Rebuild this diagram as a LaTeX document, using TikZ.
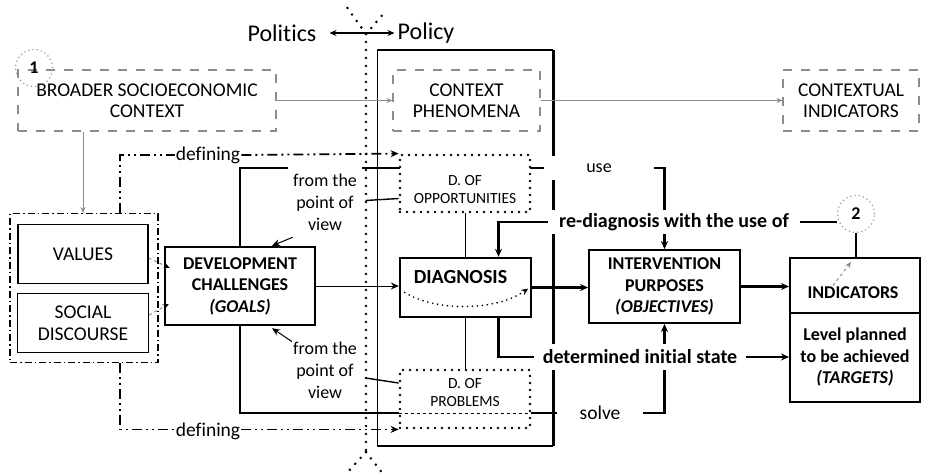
\documentclass[tikz,border=0pt]{standalone}
\usepackage{fontspec}
\setmainfont{Carlito}[Ligatures=NoCommon]
\usetikzlibrary{arrows.meta,calc,backgrounds}

\begin{document}
\begin{tikzpicture}[x=1pt,y=-1pt,
  base/.style={font=\fontsize{19.5}{21.5}\selectfont, align=center, inner sep=1pt},
  viewtxt/.style={font=\fontsize{18}{22}\selectfont, align=center, inner sep=1pt, fill=white},
  boldtxt/.style={font=\bfseries\fontsize{20}{21.5}\selectfont, align=center, inner sep=1pt},
  boxbold/.style={font=\bfseries\fontsize{18}{21.5}\selectfont, align=center},
  headtxt/.style={font=\fontsize{24}{24}\selectfont, inner sep=1pt},
  smalltxt/.style={font=\fontsize{15.5}{18}\selectfont, align=center, inner sep=0pt},
  lbl/.style={base, fill=white},
  boldlbl/.style={boldtxt, fill=white},
  ctxbox/.style={base, draw=black!45, line width=1.1pt, dash pattern=on 9pt off 9pt,
                 minimum height=61pt, inner sep=0pt},
  numc/.style={circle, draw=black!40, line width=1.2pt, dash pattern=on 1.2pt off 3pt,
               minimum size=37pt, inner sep=0pt, font=\bfseries\fontsize{18}{18}\selectfont},
  outbox/.style={base, draw, line width=1.4pt, inner sep=0pt},
  heavybox/.style={boxbold, draw, line width=2.4pt, inner sep=0pt},
  dbox/.style={draw, line width=2.8pt, dash pattern=on 0pt off 7pt, line cap=round,
               inner sep=0pt, minimum width=130pt},
  grpbox/.style={draw, line width=1.1pt, dash pattern=on 7pt off 3pt on 1.5pt off 3pt},
  thk/.style={line width=2.4pt},
  hair/.style={line width=1pt},
  arr/.style={-{Stealth[length=8pt,width=7pt]}},
  defl/.style={line width=1.8pt, dash pattern=on 10pt off 4pt on 2pt off 4pt on 2pt off 4pt},
  divider/.style={line width=2.8pt, dash pattern=on 0pt off 8pt, line cap=round},
  garrow/.style={draw=black!45, line width=1pt, -{Stealth[length=6pt,width=5pt]}}
]
\useasboundingbox (0,0) rectangle (927,475);

% ---- headings
\node[headtxt] (politics) at (282,33) {Politics};
\node[headtxt] (policy) at (426,33) {Policy};

% ---- context row
\node[ctxbox, minimum width=258pt] (broad) at (147,100.5) {BROADER SOCIOECONOMIC\\CONTEXT};
\node[ctxbox, minimum width=147pt] (phen) at (466.5,100.5) {CONTEXT\\PHENOMENA};
\node[ctxbox, minimum width=136pt] (ctxind) at (851,100.5) {CONTEXTUAL\\INDICATORS};
\node[numc] (c1) at (34,68) {1};

% ---- values and discourse
\node[grpbox, minimum width=148pt, minimum height=149pt] (grp) at (84,288) {};
\node[outbox, minimum width=130pt, minimum height=59pt] (values) at (83,254) {VALUES};
\node[outbox, minimum width=131pt, minimum height=59pt] (social) at (83,323) {SOCIAL\\DISCOURSE};

% ---- goals
\node[heavybox, minimum width=150pt, minimum height=78pt] (dev) at (240,286)
  {DEVELOPMENT\\CHALLENGES\\\textit{(GOALS)}};

% ---- diagnosis block
\node[dbox, minimum height=57pt, fill=white] (opp) at (465,183.5) {};
\node[smalltxt] (opptxt) at ($(opp.center)+(0,6.5)$) {D. OF\\OPPORTUNITIES};
\node[dbox, minimum height=58pt] (prob) at (465,399) {};
\node[smalltxt] (probtxt) at ($(prob.center)+(0,-6.5)$) {D. OF\\PROBLEMS};
\node[heavybox, minimum width=131pt, minimum height=59pt] (diag) at (465.5,287.5) {};
\node[boldtxt] (diagtxt) at ($(diag.center)+(-5,-10)$) {DIAGNOSIS};

% ---- objectives and indicators
\node[heavybox, line width=1.8pt, minimum width=151pt, minimum height=73pt] (interv) at (664.5,286.5)
  {INTERVENTION\\PURPOSES\\\textit{(OBJECTIVES)}};
\node[heavybox, line width=2pt, minimum width=130pt, minimum height=55pt] (indtop) at (855,285.5) {};
\node[boxbold] (indtxt) at ($(indtop.center)+(-2,7.5)$) {INDICATORS};
\node[heavybox, line width=2pt, minimum width=130pt, minimum height=89pt] (indbot) at (855,357.5)
  {Level planned\\to be achieved\\\textit{(TARGETS)}};
\node[numc] (c2) at (856,214) {2};

% ---- labels on connectors
\node[viewtxt, minimum width=74pt, minimum height=70pt] (fromT) at (325,202) {from the\\point of\\view};
\node[viewtxt] (fromB) at (325,370) {from the\\point of\\view};
\node[lbl] (defT) at (208,155) {defining};
\node[lbl] (defB) at (208,431) {defining};
\node[viewtxt, minimum width=110pt, minimum height=24pt] (useL) at (599,168) {use};
\node[lbl, minimum width=86pt, minimum height=24pt] (solveL) at (600,413) {solve};
\node[boldlbl, minimum width=252pt, minimum height=24pt] (rediag) at (674,222) {re-diagnosis with the use of};
\node[boldlbl, minimum width=212pt, minimum height=26pt] (det) at (640,357) {determined initial state};

\begin{pgfonlayer}{background}
  % politics / policy divider
  \coordinate (sepT) at (366,34);
  \coordinate (sepB) at (366,452);
  \coordinate (sepTL) at (346,6);
  \coordinate (sepTR) at (385,12);
  \coordinate (sepBL) at (346,474);
  \coordinate (sepBR) at (383,474);
  \draw[divider] (sepT) -- (sepB);
  \draw[divider] (sepT) -- (sepTL);
  \draw[divider] (sepT) -- (sepTR);
  \draw[divider] (sepB) -- (sepBL);
  \draw[divider] (sepB) -- (sepBR);
  \draw[line width=1.3pt, {Stealth[length=7pt,width=6pt]}-{Stealth[length=7pt,width=6pt]},
        shorten <=12pt, shorten >=2pt] (politics.east) -- (policy.west);

  % policy frame
  \coordinate (polTL) at (377,50);
  \coordinate (polTR) at (553,50);
  \coordinate (polBR) at (553,446);
  \coordinate (polBL) at (377,446);
  \draw[line width=1pt] (polTL) -- (polBL);
  \draw[line width=1.6pt] (polTL) -- (polTR);
  \draw[line width=3pt] (polTR) -- (polBR);
  \draw[line width=1.4pt] (polBL) -- (polBR);

  % context flow
  \draw[garrow] (broad.east) -- (phen.west);
  \draw[garrow] (phen.east) -- (ctxind.west);
  \draw[garrow] (values.north |- broad.south) -- (values.north |- grp.north);

  % defining
  \coordinate (defx) at (120,0);
  \draw[defl] (defx |- grp.north) -- (defx |- defT) -- (defT.west);
  \draw[defl, arr] (defT.east) -- (opp.north west);
  \draw[defl] (defx |- grp.south) -- (defx |- prob.south) -- (defB.west |- prob.south);
  \draw[defl, arr] (defB.east |- prob.south) -- (prob.south west);

  % values / discourse into goals
  \draw[garrow, dashed, -{Stealth[length=6pt,width=5pt,color=black]}] ($(values.east)+(0,4)$) -- ($(dev.west)+(6,-18)$);
  \draw[garrow, dashed, -{Stealth[length=6pt,width=5pt,color=black]}] ($(social.east)+(0,-8)$) -- ($(dev.west)+(5,18)$);

  % use
  \coordinate (useY) at (0,168);
  \draw[thk] (dev.north) -- (dev.north |- useY) -- (useL.west |- useY);
  \draw[thk, arr] (useL.east) -| (interv.north);

  % solve
  \coordinate (solveY) at (0,413);
  \draw[thk] (dev.south) -- (dev.south |- solveY) -- (prob.west |- solveY);
  \draw[hair, dash pattern=on 3pt off 3pt] (prob.west |- solveY) -- (prob.east |- solveY);
  \draw[thk] (prob.east |- solveY) -- (solveL.west |- solveY);
  \draw[thk, arr] (solveL.east |- solveY) -| (interv.south);

  % point of view
  \draw[hair, arr] ($(fromT.south west)+(5,0)$) -- ($(dev.north)+(32,0)$);
  \draw[hair, arr] ($(fromB.north west)+(3,3)$) -- ($(dev.south)+(32,2)$);
  \draw[line width=1.4pt] ($(opp.west)+(0,15)$) -- ($(opp.west)+(-33,17)$);
  \draw[line width=1.4pt] ($(prob.west)+(0,-16)$) -- ($(prob.west)+(-33,-21)$);

  % diagnosis
  \draw[hair, arr] (dev.east) -- (dev.east -| diag.west);
  \draw[hair] (opp.south) -- (opp.south |- diag.north);
  \draw[hair] (opp.south |- diag.south) -- (prob.north);
  \draw[line width=1.8pt, dash pattern=on 0pt off 5pt, line cap=round,
        -{Stealth[length=7pt,width=6pt]}]
    ($(diag.west)+(6,5)$) .. controls ($(diag.center)+(-30,24)$) and ($(diag.center)+(30,24)$) .. ($(diag.east)+(-4,1)$);
  \draw[thk, arr] (diag.east) -- (diag.east -| interv.west);
  \draw[thk, arr] (interv.east) -- (interv.east -| indtop.west);

  % re-diagnosis and initial state
  \draw[thk] (rediag.east) -- (c2.west |- rediag.east);
  \draw[thk, arr] (rediag.west) -| ($(diag.north)+(33,0)$);
  \draw[thk] ($(diag.south)+(33,0)$) |- (det.west);
  \draw[thk, arr] (det.east) -- (det.east -| indbot.west);

  % indicator marker
  \draw[line width=1.8pt] (c2.south) -- (c2.south |- indtop.north);
  \draw[garrow, dashed] ($(indtop.center)+(-22,0)$) -- ($(indtop.north)+(-4,5)$);
\end{pgfonlayer}
\end{tikzpicture}
\end{document}
